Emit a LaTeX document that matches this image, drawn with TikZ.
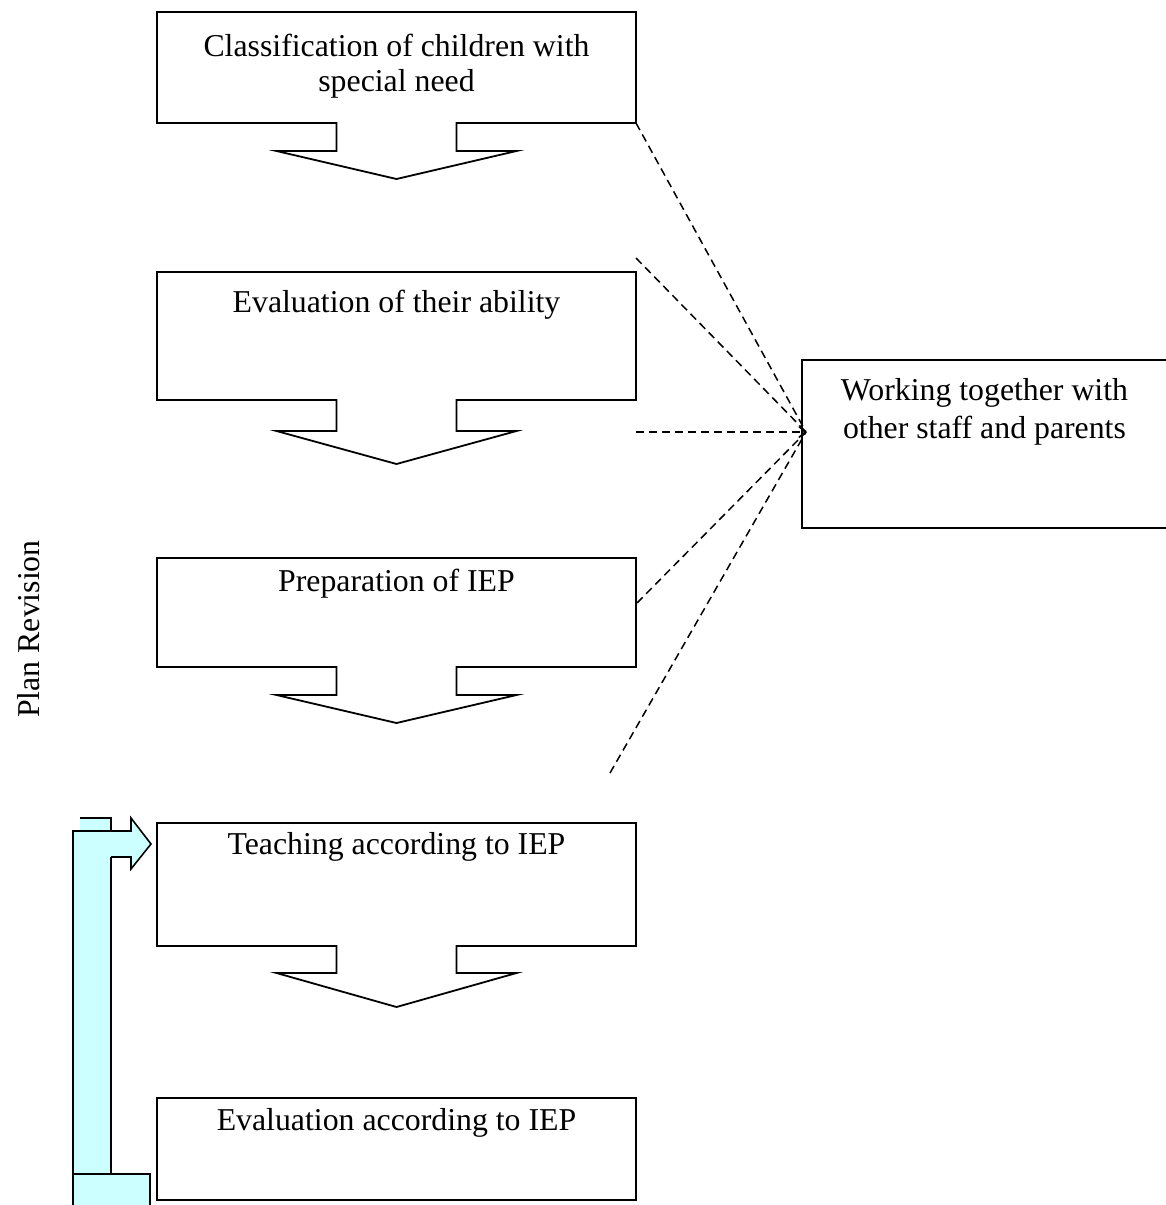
\documentclass[tikz,border=0pt]{standalone}
\usepackage{fontspec}
\setmainfont{Liberation Serif}
\usetikzlibrary{arrows.meta}
\definecolor{revcyan}{HTML}{CCFFFF}

% Box with a block arrow hanging from its bottom edge:
% #1 node name, #2 stem length, #3 distance to the arrow tip
\newcommand\stageoutline[3]{%
  \draw[outline] ([xshift=-60pt]#1.south) -- (#1.south west) -- (#1.north west)
    -- (#1.north east) -- (#1.south east) -- ([xshift=60pt]#1.south)
    -- ([xshift=60pt,yshift=-#2pt]#1.south) -- ([xshift=120pt,yshift=-#2pt]#1.south)
    -- ([yshift=-#3pt]#1.south)
    -- ([xshift=-120pt,yshift=-#2pt]#1.south) -- ([xshift=-60pt,yshift=-#2pt]#1.south)
    -- cycle;}

\begin{document}
\begin{tikzpicture}[x=1pt,y=-1pt,
  stagebox/.style={minimum width=479pt, inner sep=0pt, outer sep=0pt},
  outline/.style={draw=black, line width=1.8pt, line join=miter},
  caption/.style={font=\fontsize{31.8}{35}\selectfont, align=center, inner sep=0pt, anchor=base},
  twoline/.style={font=\fontsize{31.8}{#1}\selectfont, align=center, inner sep=0pt, anchor=north},
  link/.style={draw=black, line width=1.5pt, dash pattern=on 8pt off 5pt}]

\useasboundingbox (0,0) rectangle (1166,1205);
\clip (0,0) rectangle (1166,1205);

% stages of the process
\node[stagebox, minimum height=111pt] (b1) at (396.5,67.5) {};
\node[stagebox, minimum height=128pt] (b2) at (396.5,336) {};
\node[stagebox, minimum height=109pt] (b3) at (396.5,612.5) {};
\node[stagebox, minimum height=123pt] (b4) at (396.5,884.5) {};
\node[stagebox, minimum height=102pt] (b5) at (396.5,1149) {};
\node[inner sep=0pt, outer sep=0pt, minimum width=366pt, minimum height=168pt] (work) at (985,444) {};

\stageoutline{b1}{28}{56}
\stageoutline{b2}{31}{64}
\stageoutline{b3}{28}{56}
\stageoutline{b4}{27}{61}
\draw[outline] (b5.south west) rectangle (b5.north east);
\draw[outline] (work.south west) rectangle (work.north east);

% captions
\node[twoline=35] (t1) at (396.5,33.5) {Classification of children with\\special need};
\node[caption] (t2) at (396.5,312) {Evaluation of their ability};
\node[caption] (t3) at (396.5,591) {Preparation of IEP};
\node[caption] (t4) at (396.5,854) {Teaching according to IEP};
\node[caption] (t5) at (396.5,1130) {Evaluation according to IEP};
\node[twoline=38] (tw) at (984.5,378.5) {Working together with\\other staff and parents};
\node[caption, rotate=90] (plan) at (39,629) {Plan Revision};

% dashed links meeting at the collaboration box
\coordinate (hub) at (806,432);
\coordinate (pB) at (636,258);
\coordinate (pC) at (636,432);
\coordinate (pD) at (637,603);
\coordinate (pE) at (610,773);
\draw[link] (b1.south east) -- (hub);
\draw[link] (pB) -- (hub);
\draw[link, -{Straight Barb[length=6pt,width=11pt,line width=1.5pt]}] (pC) -- (hub);
\draw[link] (pD) -- (hub);
\draw[link] (pE) -- (hub);

% revision loop arrow: vertical bar, foot and the arrow into the teaching stage
\fill[revcyan] (80,818) rectangle (111,831);
\fill[revcyan] (73,831) -- (131,831) -- (131,818) -- (151,844) -- (131,869) -- (131,857)
  -- (111,857) -- (111,1174) -- (150,1174) -- (150,1210) -- (73,1210) -- cycle;
\draw[outline, line width=1.6pt] (80,818) -- (111,818) -- (111,831);
\draw[outline, line width=1.6pt] (111,857) -- (111,1174);
\draw[outline, line width=1.6pt] (73,1210) -- (73,831) -- (131,831) -- (131,818) -- (151,844)
  -- (131,869) -- (131,857) -- (111,857);
\draw[outline, line width=1.6pt] (73,1174) -- (150,1174) -- (150,1210);
\end{tikzpicture}
\end{document}
